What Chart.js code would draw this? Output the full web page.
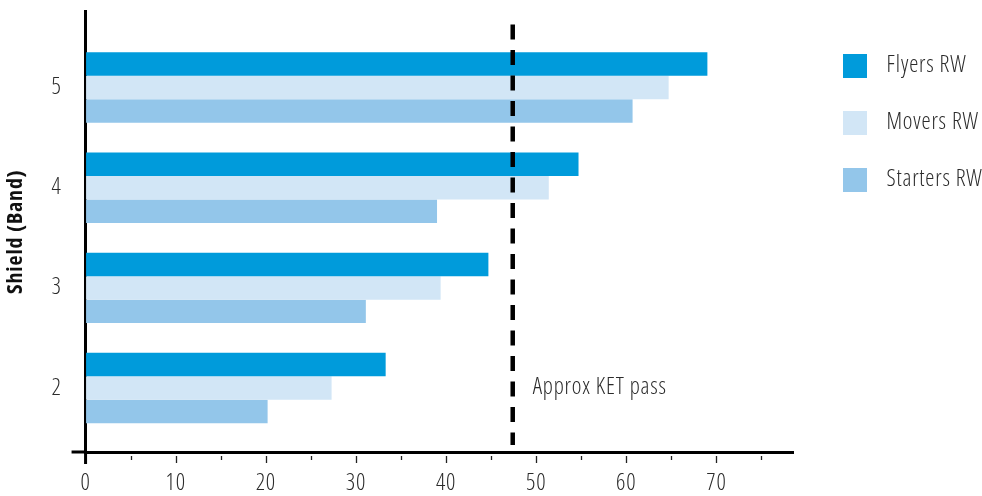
<!DOCTYPE html>
<html>
<head>
<meta charset="utf-8">
<script src="https://cdn.jsdelivr.net/npm/chart.js@4.4.1/dist/chart.umd.min.js"></script>
<style>
  html, body { margin: 0; padding: 0; background: #fff; }
  #wrap { width: 982px; height: 496px; }
</style>
</head>
<body>
<div id="wrap"><canvas id="c" width="982" height="496"></canvas></div>
<script>
// ---- data ----
const bands = [5, 4, 3, 2];
const seriesNames = ['Flyers RW', 'Movers RW', 'Starters RW'];
const flyers = [69.0, 54.7, 44.7, 33.3];
const movers = [64.7, 51.4, 39.4, 27.3];
const starters = [60.7, 39.0, 31.1, 20.2];
const xTicks = [0, 10, 20, 30, 40, 50, 60, 70];
const yTicks = [2, 3, 4, 5];
const ketPass = 47.4;
const ketLabel = 'Approx KET pass';
const yTitle = 'Shield (Band)';

// ---- styles ----
const colors = ['rgb(0,155,219)', 'rgb(210,230,246)', 'rgb(147,198,234)'];
const FONT = '"Open Sans", "Noto Sans", sans-serif';
const W_REG = '350 condensed';
const W_BOLD = 'bold condensed';
const FS = 23;
const LS = '0.8px';
const TXT = '#2b2b2b';

function icon(color) {
  const c = document.createElement('canvas');
  c.width = 48; c.height = 24;
  const g = c.getContext('2d');
  g.fillStyle = color;
  g.fillRect(16, 0, 24, 24);
  return c;
}
const icons = colors.map(icon);

const allSeries = [flyers, movers, starters];
const datasets = allSeries.map((vals, i) => ({
  label: seriesNames[i],
  data: bands.map((b, j) => ({ x: vals[j], y: b })),
  backgroundColor: colors[i],
  borderWidth: 0,
  categoryPercentage: 0.703,
  barPercentage: 1.0
}));

const spacing = {
  id: 'spacing',
  beforeUpdate(chart) { chart.ctx.letterSpacing = LS; },
  beforeLayout(chart) { chart.ctx.letterSpacing = LS; },
  beforeDraw(chart) { chart.ctx.letterSpacing = LS; }
};

const extras = {
  id: 'extras',
  afterDatasetsDraw(chart) {
    const { ctx, chartArea: a, scales: { x, y } } = chart;
    ctx.save();
    ctx.strokeStyle = '#000';
    ctx.lineWidth = 3;
    ctx.beginPath();
    ctx.moveTo(a.left, a.bottom); ctx.lineTo(a.left, a.bottom + 12);
    ctx.moveTo(a.left - 14, a.bottom); ctx.lineTo(a.left, a.bottom);
    ctx.stroke();
    ctx.strokeStyle = '#222';
    ctx.lineWidth = 1.3;
    ctx.beginPath();
    for (let v = 5; v <= 75; v += 5) {
      const px = Math.round(x.getPixelForValue(v)) + 0.5;
      const major = v % 10 === 0;
      ctx.moveTo(px, a.bottom + 4);
      ctx.lineTo(px, a.bottom + (major ? 11 : 8));
    }
    ctx.stroke();
    const kx = x.getPixelForValue(ketPass);
    ctx.strokeStyle = '#000';
    ctx.lineWidth = 4.5;
    ctx.setLineDash([15, 10.5]);
    ctx.beginPath();
    ctx.moveTo(kx, a.top + 13);
    ctx.lineTo(kx, a.bottom - 7);
    ctx.stroke();
    ctx.setLineDash([]);
    ctx.fillStyle = TXT;
    ctx.letterSpacing = LS;
    ctx.font = W_REG + ' ' + FS + 'px ' + FONT;
    ctx.textBaseline = 'alphabetic';
    ctx.textAlign = 'left';
    ctx.fillText(ketLabel, kx + 20, y.getPixelForValue(1.94));
    ctx.restore();
  }
};

new Chart(document.getElementById('c'), {
  type: 'bar',
  data: { datasets },
  options: {
    indexAxis: 'y',
    responsive: false,
    animation: false,
    devicePixelRatio: 1,
    layout: { padding: { left: 0, right: 0, top: 0, bottom: 1 } },
    scales: {
      x: {
        type: 'linear',
        offset: false,
        min: 0,
        max: 78.5,
        afterBuildTicks: s => { s.ticks = xTicks.map(v => ({ value: v })); },
        grid: { display: true, drawOnChartArea: false, drawTicks: true, tickLength: 20, tickColor: 'rgba(0,0,0,0)', offset: false },
        border: { display: true, color: '#000', width: 3 },
        ticks: { color: TXT, padding: 0, font: { family: FONT, size: FS, weight: W_REG, lineHeight: 1 } }
      },
      y: {
        type: 'linear',
        offset: false,
        min: 1.362,
        max: 5.759,
        afterBuildTicks: s => { s.ticks = yTicks.map(v => ({ value: v })); },
        grid: { display: true, drawOnChartArea: false, drawTicks: true, tickLength: 24, tickColor: 'rgba(0,0,0,0)', offset: false },
        border: { display: true, color: '#000', width: 3 },
        ticks: { color: TXT, padding: 0, font: { family: FONT, size: FS, weight: W_REG, lineHeight: 1 } },
        title: {
          display: true, text: yTitle, color: '#111',
          font: { family: FONT, size: 22, weight: W_BOLD, lineHeight: 1.2 },
          padding: { top: 3, bottom: 22 }
        }
      }
    },
    plugins: {
      tooltip: { enabled: false },
      legend: {
        position: 'right',
        align: 'start',
        fullSize: false,
        maxWidth: 189,
        title: { display: true, text: '', font: { size: 1, lineHeight: 1 }, padding: { top: 7.5, bottom: 0 } },
        labels: {
          usePointStyle: true,
          pointStyleWidth: 48,
          boxHeight: FS,
          padding: 34,
          color: TXT,
          font: { family: FONT, size: FS, weight: W_REG },
          generateLabels(chart) {
            const items = Chart.defaults.plugins.legend.labels.generateLabels(chart);
            items.forEach((it, i) => { it.pointStyle = icons[i]; });
            return items;
          }
        }
      }
    }
  },
  plugins: [spacing, extras]
});
</script>
</body>
</html>
